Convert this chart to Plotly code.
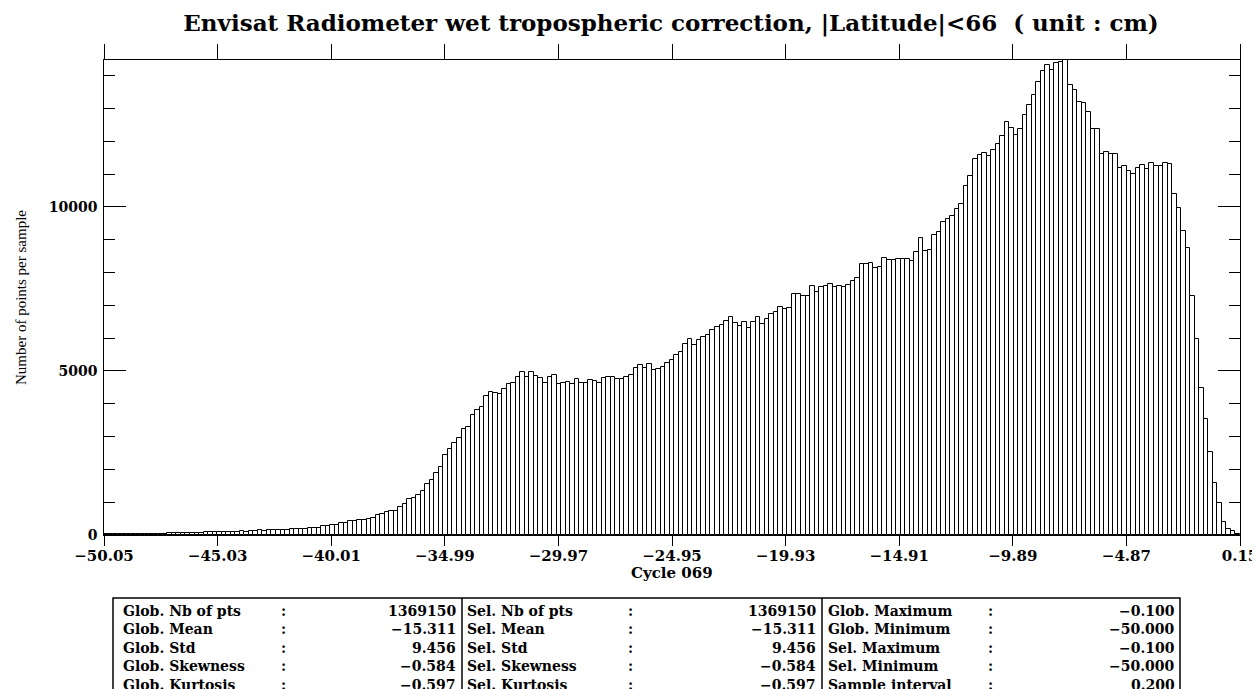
import plotly.graph_objects as go

# ---------------- data ----------------
bin_start = -50.05
bin_width = 0.2
counts = [30,
    30, 30, 30, 35, 30, 35, 35, 35, 40, 40, 40, 45, 45,
    50, 60, 60, 60, 55, 55, 50, 55,
    80, 80, 85, 80, 90,
    100, 105, 100, 110, 105, 110, 110,
    140, 135, 140, 140, 145, 140,
    165, 170, 170, 175, 170,
    215, 220, 225, 260, 265, 305, 315, 355, 360, 415, 425, 455, 465, 500, 505, 600,
    640, 691, 732, 742, 864, 935, 1088, 1118, 1230, 1352,
    1545, 1677, 1880, 2063, 2429, 2632, 2795, 2947, 3222, 3303,
    3648, 3811, 3913, 4248, 4370, 4340, 4299, 4451, 4604, 4644,
    4827, 4980, 4827, 4980, 4858, 4776, 4624, 4807, 4888, 4594,
    4644, 4675, 4614, 4746, 4644, 4644, 4726, 4695, 4624, 4776,
    4827, 4807, 4746, 4746, 4827, 4878, 5081, 5173, 5081, 5224,
    5030, 5061, 5122, 5234, 5335, 5488, 5590, 5813, 5965, 5793,
    5945, 6047, 6088, 6250, 6342, 6413, 6514, 6657,
    6463, 6372, 6504, 6301, 6494, 6636, 6423, 6575, 6728, 6809,
    6962, 6880, 6911, 7358, 7348, 7297, 7297, 7592, 7419, 7571,
    7592, 7653, 7571, 7602, 7571, 7632, 7754, 7846, 8262, 8262,
    8283, 8130, 8181, 8445, 8384, 8374, 8404, 8404, 8425, 8343,
    8638, 9065, 8659, 8689, 9136, 9228, 9533, 9634,
    9726, 9929, 10092, 10650, 10955, 11453, 11595, 11656, 11555, 11738,
    11931, 12154, 12591, 12408, 12185, 12388, 12804, 13119, 13414, 13800,
    14156, 14339, 14177, 14400, 14420, 14600, 13729, 13566, 13211, 13160,
    12896, 12367, 12388, 11616, 11687, 11606, 11626, 11179, 11250, 11087,
    10996, 11179, 11291, 11159, 11331, 11240, 11240, 11331, 11321, 10396,
    9970, 9268, 8750, 7297, 5976, 4472, 3527, 2531, 1596, 986,
    407, 183, 122, 30]

x_tickvals = [-50.05, -45.03, -40.01, -34.99, -29.97, -24.95, -19.93, -14.91, -9.89, -4.87, 0.15]
x_ticktext = ["\u221250.05", "\u221245.03", "\u221240.01", "\u221234.99", "\u221229.97",
              "\u221224.95", "\u221219.93", "\u221214.91", "\u22129.89", "\u22124.87", "0.15"]
y_tickvals = [0, 5000, 10000]
y_ticktext = ["0\u2009", "5000\u2009", "10000\u2009"]

title_text = "Envisat Radiometer wet tropospheric correction, |Latitude|<66  ( unit : cm)"
x_title = "Cycle 069"
y_title = "Number of points per sample"

col1_labels = ["Glob. Nb of pts", "Glob. Mean", "Glob. Std", "Glob. Skewness", "Glob. Kurtosis"]
col1_values = ["1369150", "\u221215.311", "9.456", "\u22120.584", "\u22120.597"]
col2_labels = ["Sel. Nb of pts", "Sel. Mean", "Sel. Std", "Sel. Skewness", "Sel. Kurtosis"]
col2_values = ["1369150", "\u221215.311", "9.456", "\u22120.584", "\u22120.597"]
col3_labels = ["Glob. Maximum", "Glob. Minimum", "Sel. Maximum", "Sel. Minimum", "Sample interval"]
col3_values = ["\u22120.100", "\u221250.000", "\u22120.100", "\u221250.000", "0.200"]

# ---------------- layout geometry ----------------
OFF = 8                      # page body margin
W, H = 1252, 681
L, T = 96, 52
PW, PH = 1136, 475
R, B = W - L - PW, H - T - PH
y_max = 14480

def px(xs):                  # screen x -> paper
    return (xs - OFF - L) / PW

def py(ys):                  # screen y -> paper
    return (T + PH - (ys - OFF)) / PH

centers = [bin_start + bin_width * (i + 0.5) for i in range(len(counts))]

fig = go.Figure()
fig.add_trace(go.Bar(
    x=centers, y=counts, width=bin_width,
    marker=dict(color="white", line=dict(color="black", width=1)),
    showlegend=False, hoverinfo="x+y"))
fig.add_trace(go.Scatter(x=[x_tickvals[0]], y=[0], xaxis="x2", mode="markers",
                         marker=dict(opacity=0), showlegend=False, hoverinfo="skip"))

serif = "DejaVu Serif"
fig.update_layout(
    width=W, height=H,
    margin=dict(l=L, r=R, t=T, b=B, pad=0, autoexpand=False),
    paper_bgcolor="white", plot_bgcolor="white",
    bargap=0,
    title=dict(text="<b>" + title_text + "</b>", xref="container", yref="container",
               x=(671 - OFF) / W, xanchor="center",
               y=1 - (23 - OFF) / H, yanchor="middle", automargin=False,
               font=dict(family=serif, size=23, color="black")),
    xaxis=dict(range=[-50.05, 0.15], tickvals=x_tickvals, ticktext=x_ticktext,
               ticks="outside", ticklen=10, tickwidth=1, tickcolor="black",
               showline=True, linecolor="black", linewidth=1, mirror=True,
               showgrid=False, zeroline=False, automargin=False, ticklabelstandoff=-3,
               tickfont=dict(family=serif, size=15, color="black", weight="bold")),
    xaxis2=dict(range=[-50.05, 0.15], tickvals=x_tickvals, overlaying="x", side="top",
                ticks="outside", ticklen=15, tickwidth=1, tickcolor="black", automargin=False,
                showticklabels=False, showgrid=False, zeroline=False, showline=False),
    yaxis=dict(range=[0, y_max], tickvals=y_tickvals, ticktext=y_ticktext,
               ticks="inside", ticklen=22, tickwidth=1, tickcolor="black",
               minor=dict(dtick=1000, tick0=0, ticks="inside", ticklen=11, tickcolor="black", tickwidth=1),
               showline=True, linecolor="black", linewidth=1, mirror="ticks",
               showgrid=False, zeroline=False, automargin=False,
               tickfont=dict(family=serif, size=14, color="black", weight="bold"),
               title=dict(text=y_title, standoff=18,
                          font=dict(family="Liberation Serif", size=15, color="black"))),
)

# x-axis title
fig.add_annotation(x=px(672), y=py(573), xref="paper", yref="paper",
                   text="<b>" + x_title + "</b>", showarrow=False,
                   xanchor="center", yanchor="middle",
                   font=dict(family=serif, size=15, color="black"))

# ---------------- statistics table ----------------
tbl_left, tbl_right, tbl_top = 113, 1180, 598
dividers = [462, 822]
shapes = [dict(type="rect", xref="paper", yref="paper", x0=px(tbl_left), x1=px(tbl_right),
               y0=py(tbl_top), y1=py(H + 40), line=dict(color="black", width=1.5))]
for d in dividers:
    shapes.append(dict(type="line", xref="paper", yref="paper", x0=px(d), x1=px(d),
                       y0=py(tbl_top), y1=py(H + 40), line=dict(color="black", width=1.5)))
fig.update_layout(shapes=shapes)

cols = [
    (col1_labels, col1_values, 121, 283, 458),
    (col2_labels, col2_values, 465, 630, 818),
    (col3_labels, col3_values, 826, 990, 1177),
]
tfont = dict(family=serif, size=14, color="black", weight="bold")
for labels, values, xl, xc, xr in cols:
    for i, (lab, val) in enumerate(zip(labels, values)):
        yy = py(610.5 + 18.5 * i)
        fig.add_annotation(x=px(xl), y=yy, xref="paper", yref="paper", text=lab,
                           showarrow=False, xanchor="left", yanchor="middle", font=tfont)
        fig.add_annotation(x=px(xc), y=yy, xref="paper", yref="paper", text=":",
                           showarrow=False, xanchor="center", yanchor="middle", font=tfont)
        fig.add_annotation(x=px(xr), y=yy, xref="paper", yref="paper", text=val,
                           showarrow=False, xanchor="right", yanchor="middle", font=tfont)

fig.write_html("out.html")
